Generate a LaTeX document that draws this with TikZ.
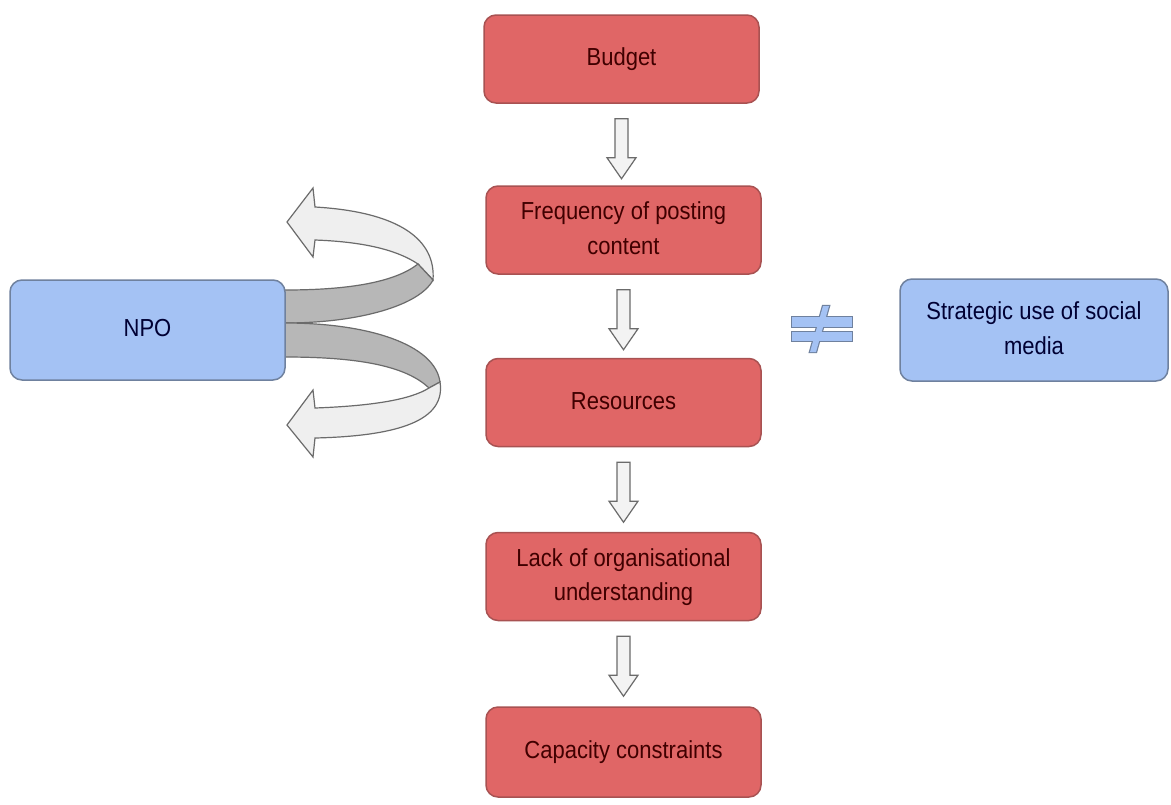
\documentclass[tikz,border=0pt]{standalone}
\usepackage{fontspec}
\usepackage{graphicx}
\setmainfont{Liberation Sans}
\usetikzlibrary{calc}
\definecolor{boxred}{HTML}{E06666}
\definecolor{boxredline}{HTML}{A85252}
\definecolor{boxblue}{HTML}{A4C2F4}
\definecolor{boxblueline}{HTML}{6F819E}
\definecolor{arrowfill}{HTML}{F3F3F3}
\definecolor{arrowline}{HTML}{6B6B6B}
\definecolor{bandgray}{HTML}{B7B7B7}
\definecolor{bandlight}{HTML}{EFEFEF}
% slightly tall lettering, one or more centred lines
\newcommand{\tallt}[1]{\scalebox{1}[1.12]{\begin{tabular}{@{}c@{}}#1\end{tabular}}}
% hollow block arrow pointing down from the bottom of a box
\newcommand{\downblock}[1]{%
  \draw[blockarrow] ($(#1.south)+(-6.5,15)$) -- ++(13,0) -- ++(0,39) -- ++(8,0)
    -- ++(-14.5,21) -- ++(-14.5,-21) -- ++(8,0) -- cycle;}
\begin{document}
\begin{tikzpicture}[x=1pt,y=-1pt,
  box/.style={rounded corners=12pt, line width=1.5pt, minimum width=275pt,
    minimum height=88pt, inner sep=0pt, font=\fontsize{22}{31}\selectfont},
  redbox/.style={box, fill=boxred, draw=boxredline, text=red!25!black},
  bluebox/.style={box, fill=boxblue, draw=boxblueline, text=blue!20!black,
    minimum height=100pt},
  blockarrow/.style={fill=arrowfill, draw=arrowline, line width=1.2pt, line join=miter},
  banddark/.style={fill=bandgray, draw=arrowline, line width=1.2pt},
  bandpale/.style={fill=bandlight, draw=arrowline, line width=1.2pt, line join=miter},
]
\useasboundingbox[fill=white] (0,0) rectangle (1171,804);

% flow of causes
\node[redbox] (budget) at (621.5,59) {\tallt{Budget}};
\node[redbox] (freq) at (623.5,230) {\tallt{Frequency of posting\\content}};
\node[redbox] (res) at (623.5,402.5) {\tallt{Resources}};
\node[redbox] (lack) at (623.5,576.5) {\tallt{Lack of organisational\\understanding}};
\node[redbox, minimum height=90pt] (cap) at (623.5,752) {\tallt{Capacity constraints}};

\downblock{budget}
\downblock{freq}
\downblock{res}
\downblock{lack}

% looping ribbons leaving the NPO box (drawn first, the box covers their ends)
\draw[bandpale] (315,207) .. controls (400,212) and (436,240) .. (433,280)
  -- (418,264) .. controls (400,252) and (370,242) .. (315,240)
  -- (313,257) -- (287,222) -- (313,188) -- cycle;
\draw[banddark] (278,290) -- (285,290) .. controls (350,290) and (395,282) .. (418,264)
  -- (433,280) .. controls (420,305) and (360,323) .. (285,323) -- (278,323) -- cycle;
\draw[banddark] (278,323) -- (285,323) .. controls (370,323) and (435,345) .. (440,382)
  -- (429,388) .. controls (405,365) and (355,357) .. (285,357) -- (278,357) -- cycle;
\draw[bandpale] (440,382) .. controls (446,420) and (400,436) .. (315,438)
  -- (313,457) -- (287,425) -- (313,390) -- (315,408)
  .. controls (370,406) and (410,400) .. (429,388) -- cycle;

% the two sides
\node[bluebox] (npo) at (147.5,330) {\tallt{NPO}};
\node[bluebox, minimum width=268pt, minimum height=102pt] (soc) at (1034,330)
  {\tallt{Strategic use of social\\media}};

% not-equal sign
\begin{scope}
  \draw[draw=boxblueline, line width=2.4pt, fill=boxblue] (792,317) rectangle (852,327);
  \draw[draw=boxblueline, line width=2.4pt, fill=boxblue] (792,332) rectangle (852,341);
  \draw[draw=boxblueline, line width=2.4pt, fill=boxblue]
    (823,306) -- (829,306) -- (816,352) -- (810,352) -- cycle;
  \fill[boxblue] (792,317) rectangle (852,327);
  \fill[boxblue] (792,332) rectangle (852,341);
  \fill[boxblue] (823,306) -- (829,306) -- (816,352) -- (810,352) -- cycle;
\end{scope}
\end{tikzpicture}
\end{document}
